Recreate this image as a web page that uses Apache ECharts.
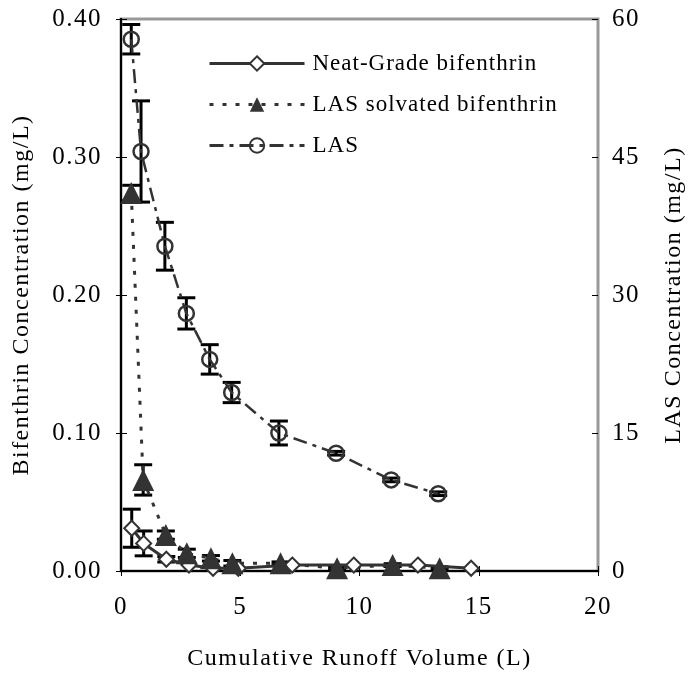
<!DOCTYPE html>
<html>
<head>
<meta charset="utf-8">
<script src="https://cdn.jsdelivr.net/npm/echarts@6/dist/echarts.min.js"></script>
<style>html,body{margin:0;padding:0;background:#fff;}#c{width:694px;height:679px;}</style>
</head>
<body>
<div id="c"></div>
<script>
// ---- data ----
var neatVolume = [0.45, 0.95, 1.9, 2.85, 3.86, 4.92, 7.18, 9.76, 12.45, 14.68];
var neatConc = [0.031, 0.020, 0.0085, 0.0043, 0.002, 0.002, 0.0043, 0.0043, 0.0043, 0.002];
var neatErr = [0.0138, 0.009, 0.002, 0, 0, 0, 0, 0, 0, 0];

var solvVolume = [0.43, 0.93, 1.88, 2.76, 3.77, 4.67, 6.69, 9.06, 11.39, 13.36];
var solvConc = [0.274, 0.066, 0.026, 0.0128, 0.0092, 0.0056, 0.0056, 0.002, 0.0043, 0.002];
var solvErr = [0.0055, 0.011, 0.003, 0.003, 0.002, 0.002, 0.001, 0.001, 0.001, 0.001];

var lasVolume = [0.43, 0.84, 1.84, 2.74, 3.72, 4.64, 6.62, 9.02, 11.33, 13.30];
var lasConc = [57.8, 45.6, 35.3, 28.0, 23.0, 19.4, 15.0, 12.8, 9.9, 8.4];
var lasErr = [1.6, 5.5, 2.6, 1.7, 1.6, 1.1, 1.3, 0.2, 0.2, 0.2];

var xTicks = [0, 5, 10, 15, 20];
var seriesNames = ['Neat-Grade bifenthrin', 'LAS solvated bifenthrin', 'LAS'];

// slightly wide letter spacing of the original typeface (canvas letterSpacing, keyed by font size)
(function () {
  var P = window.CanvasRenderingContext2D && CanvasRenderingContext2D.prototype;
  if (!P || !('letterSpacing' in P)) return;
  var spacingBySize = { '25px': '1.5px', '24px': '1.5px', '23px': '1px' };
  var orig = P.fillText;
  P.fillText = function (t, x, y, w) {
    var m = /(\d+(?:\.\d+)?px)/.exec(this.font);
    var ls = m && spacingBySize[m[1]];
    var prev = this.letterSpacing;
    this.letterSpacing = ls || '0px';
    var r = (w === undefined) ? orig.call(this, t, x, y) : orig.call(this, t, x, y, w);
    this.letterSpacing = prev;
    return r;
  };
})();

function pairs(xs, ys) { return xs.map(function (x, i) { return [x, ys[i]]; }); }
function triples(xs, ys, es) { return xs.map(function (x, i) { return [x, ys[i], es[i]]; }); }

var FONT = 'Liberation Serif';
var DARK = '#333333';

function renderErr(params, api) {
  var x = api.value(0), y = api.value(1), e = api.value(2);
  if (!e) return null;
  var hi = api.coord([x, y + e]);
  var lo = api.coord([x, y - e]);
  var hw = 9;
  var st = { stroke: '#000', lineWidth: 3 };
  return {
    type: 'group',
    children: [
      { type: 'line', shape: { x1: hi[0], y1: hi[1], x2: lo[0], y2: lo[1] }, style: st },
      { type: 'line', shape: { x1: hi[0] - hw, y1: hi[1], x2: hi[0] + hw, y2: hi[1] }, style: st },
      { type: 'line', shape: { x1: lo[0] - hw, y1: lo[1], x2: lo[0] + hw, y2: lo[1] }, style: st }
    ]
  };
}

var labelStyle = { fontFamily: FONT, fontSize: 25, color: '#000' };
var nameStyle = { fontFamily: FONT, fontSize: 24, color: '#000' };

var chart = echarts.init(document.getElementById('c'), null, { renderer: 'canvas' });
chart.setOption({
  animation: false,
  backgroundColor: '#fff',
  grid: { left: 121, right: 96, top: 19, bottom: 108, show: true, borderColor: '#999', borderWidth: 3, containLabel: false },
  legend: {
    data: seriesNames,
    orient: 'vertical',
    left: 203,
    top: 47,
    itemWidth: 95,
    itemHeight: 18,
    itemGap: 18,
    lineStyle: { width: 3 },
    textStyle: { fontFamily: FONT, fontSize: 23, color: '#000', padding: [0, 0, 0, 3] }
  },
  xAxis: [{
    type: 'value', min: xTicks[0], max: xTicks[xTicks.length - 1], interval: 5,
    name: 'Cumulative Runoff Volume (L)', nameLocation: 'middle', nameGap: 76,
    nameTextStyle: nameStyle,
    axisLine: { lineStyle: { color: '#000', width: 2 } },
    axisTick: { show: true, inside: false, length: 5, lineStyle: { color: '#000', width: 1 } },
    axisLabel: Object.assign({ margin: 24 }, labelStyle),
    splitLine: { show: false }
  }, {
    type: 'value', position: 'bottom', min: 0, max: 20, interval: 5,
    axisLine: { show: false },
    axisTick: { show: true, inside: true, length: 5, lineStyle: { color: '#000', width: 1 } },
    axisLabel: { show: false }, splitLine: { show: false }
  }],
  yAxis: [{
    type: 'value', position: 'left', min: 0, max: 0.4, interval: 0.1,
    name: 'Bifenthrin Concentration (mg/L)', nameLocation: 'middle', nameGap: 87,
    nameTextStyle: nameStyle,
    axisLine: { show: true, lineStyle: { color: '#000', width: 2 } },
    axisTick: { show: true, inside: false, length: 5, lineStyle: { color: '#000', width: 1 } },
    axisLabel: Object.assign({ margin: 19, formatter: function (v) { return v.toFixed(2); } }, labelStyle),
    splitLine: { show: false }
  }, {
    type: 'value', position: 'right', min: 0, max: 60, interval: 15,
    name: 'LAS Concentration (mg/L)', nameLocation: 'middle', nameGap: 64,
    nameTextStyle: nameStyle,
    axisLine: { show: true, lineStyle: { color: '#000', width: 2 } },
    axisTick: { show: true, inside: false, length: 6, lineStyle: { color: '#000', width: 1 } },
    axisLabel: Object.assign({ margin: 14 }, labelStyle),
    splitLine: { show: false }
  }, {
    type: 'value', position: 'right', min: 0, max: 60, interval: 15,
    axisLine: { show: false },
    axisTick: { show: true, inside: true, length: 6, lineStyle: { color: '#000', width: 1 } },
    axisLabel: { show: false }, splitLine: { show: false }
  }],
  series: [{
    name: seriesNames[0], type: 'line', xAxisIndex: 0, yAxisIndex: 0,
    data: pairs(neatVolume, neatConc),
    symbol: 'diamond', symbolSize: 15, showAllSymbol: true,
    lineStyle: { color: DARK, width: 3, type: 'solid' },
    itemStyle: { color: '#fff', borderColor: DARK, borderWidth: 2 }
  }, {
    name: seriesNames[1], type: 'line', xAxisIndex: 0, yAxisIndex: 0,
    data: pairs(solvVolume, solvConc),
    symbol: 'triangle', symbolSize: 22, showAllSymbol: true,
    lineStyle: { color: DARK, width: 3, type: [4, 9] },
    itemStyle: { color: DARK, borderColor: DARK, borderWidth: 0 }
  }, {
    name: seriesNames[2], type: 'line', xAxisIndex: 0, yAxisIndex: 1,
    data: pairs(lasVolume, lasConc),
    symbol: 'circle', symbolSize: 15, showAllSymbol: true,
    lineStyle: { color: DARK, width: 2.5, type: [14, 6, 4, 6] },
    itemStyle: { color: 'rgba(255,255,255,0)', borderColor: DARK, borderWidth: 2.5 }
  }, {
    name: 'errNeat', type: 'custom', xAxisIndex: 0, yAxisIndex: 0,
    renderItem: renderErr, data: triples(neatVolume, neatConc, neatErr), encode: { x: 0, y: 1 }, z: 3
  }, {
    name: 'errSolv', type: 'custom', xAxisIndex: 0, yAxisIndex: 0,
    renderItem: renderErr, data: triples(solvVolume, solvConc, solvErr), encode: { x: 0, y: 1 }, z: 3
  }, {
    name: 'errLas', type: 'custom', xAxisIndex: 0, yAxisIndex: 1,
    renderItem: renderErr, data: triples(lasVolume, lasConc, lasErr), encode: { x: 0, y: 1 }, z: 3
  }]
});
</script>
</body>
</html>
